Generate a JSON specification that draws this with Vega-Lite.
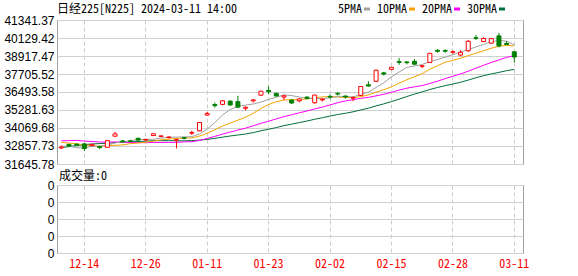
{
  "$schema": "https://vega.github.io/schema/vega-lite/v6.json",
  "background": "white",
  "padding": {"left": 3, "top": 2, "right": 0, "bottom": 0},
  "config": {
    "view": {"stroke": "#a0a0a0", "strokeWidth": 1},
    "font": "Noto Sans Mono CJK SC, Noto Sans CJK SC",
    "axis": {"gridColor": "#d0d0d0", "gridWidth": 1, "ticks": false, "domain": false, "title": null, "labelOverlap": false}
  },
  "data": {"values": [
    {"date":"2023-12-11","open":32720,"high":32900,"low":32650,"close":32791,"ma5":32835,"ma10":33105,"ma20":33206,"ma30":32753,"volume":0},
    {"date":"2023-12-12","open":32960,"high":33010,"low":32800,"close":32843,"ma5":32849,"ma10":33049,"ma20":33219,"ma30":32815,"volume":0},
    {"date":"2023-12-13","open":32980,"high":33020,"low":32850,"close":32926,"ma5":32745,"ma10":33009,"ma20":33231,"ma30":32889,"volume":0},
    {"date":"2023-12-14","open":33000,"high":33050,"low":32515,"close":32686,"ma5":32711,"ma10":32929,"ma20":33189,"ma30":32950,"volume":0},
    {"date":"2023-12-15","open":32880,"high":33000,"low":32850,"close":32970,"ma5":32843,"ma10":32883,"ma20":33166,"ma30":32995,"volume":0},
    {"date":"2023-12-18","open":32820,"high":32880,"low":32650,"close":32758,"ma5":32837,"ma10":32836,"ma20":33125,"ma30":33022,"volume":0},
    {"date":"2023-12-19","open":32770,"high":33240,"low":32750,"close":33219,"ma5":32912,"ma10":32880,"ma20":33117,"ma30":33039,"volume":0},
    {"date":"2023-12-20","open":33520,"high":33810,"low":33480,"close":33675,"ma5":33062,"ma10":32903,"ma20":33133,"ma30":33086,"volume":0},
    {"date":"2023-12-21","open":33200,"high":33260,"low":33100,"close":33140,"ma5":33152,"ma10":32932,"ma20":33117,"ma30":33119,"volume":0},
    {"date":"2023-12-22","open":33200,"high":33280,"low":33120,"close":33169,"ma5":33192,"ma10":33018,"ma20":33094,"ma30":33136,"volume":0},
    {"date":"2023-12-25","open":33380,"high":33400,"low":33220,"close":33255,"ma5":33292,"ma10":33064,"ma20":33085,"ma30":33159,"volume":0},
    {"date":"2023-12-26","open":33260,"high":33330,"low":33200,"close":33305,"ma5":33309,"ma10":33110,"ma20":33080,"ma30":33183,"volume":0},
    {"date":"2023-12-27","open":33560,"high":33700,"low":33540,"close":33681,"ma5":33310,"ma10":33186,"ma20":33098,"ma30":33216,"volume":0},
    {"date":"2023-12-28","open":33500,"high":33560,"low":33450,"close":33539,"ma5":33390,"ma10":33271,"ma20":33100,"ma30":33216,"volume":0},
    {"date":"2023-12-29","open":33420,"high":33500,"low":33380,"close":33464,"ma5":33449,"ma10":33321,"ma20":33102,"ma30":33218,"volume":0},
    {"date":"2024-01-04","open":33250,"high":33360,"low":32693,"close":33288,"ma5":33455,"ma10":33374,"ma20":33105,"ma30":33208,"volume":0},
    {"date":"2024-01-05","open":33420,"high":33450,"low":33300,"close":33377,"ma5":33470,"ma10":33389,"ma20":33135,"ma30":33208,"volume":0},
    {"date":"2024-01-09","open":33720,"high":33880,"low":33600,"close":33763,"ma5":33486,"ma10":33398,"ma20":33151,"ma30":33221,"volume":0},
    {"date":"2024-01-10","open":33880,"high":34480,"low":33850,"close":34441,"ma5":33667,"ma10":33528,"ma20":33230,"ma30":33254,"volume":0},
    {"date":"2024-01-11","open":34940,"high":35150,"low":34900,"close":35049,"ma5":33984,"ma10":33716,"ma20":33367,"ma30":33302,"volume":0},
    {"date":"2024-01-12","open":35650,"high":35780,"low":35440,"close":35577,"ma5":34441,"ma10":33948,"ma20":33506,"ma30":33373,"volume":0},
    {"date":"2024-01-15","open":35660,"high":35950,"low":35600,"close":35901,"ma5":34946,"ma10":34208,"ma20":33659,"ma30":33456,"volume":0},
    {"date":"2024-01-16","open":35880,"high":35920,"low":35570,"close":35619,"ma5":35317,"ma10":34402,"ma20":33794,"ma30":33532,"volume":0},
    {"date":"2024-01-17","open":35840,"high":36239,"low":35400,"close":35477,"ma5":35525,"ma10":34596,"ma20":33933,"ma30":33599,"volume":0},
    {"date":"2024-01-18","open":35400,"high":35520,"low":35250,"close":35466,"ma5":35608,"ma10":34796,"ma20":34058,"ma30":33667,"volume":0},
    {"date":"2024-01-19","open":35900,"high":36000,"low":35780,"close":35963,"ma5":35685,"ma10":35063,"ma20":34218,"ma30":33758,"volume":0},
    {"date":"2024-01-22","open":36280,"high":36580,"low":36250,"close":36546,"ma5":35814,"ma10":35380,"ma20":34385,"ma30":33883,"volume":0},
    {"date":"2024-01-23","open":36600,"high":36880,"low":36340,"close":36517,"ma5":35994,"ma10":35656,"ma20":34527,"ma30":33986,"volume":0},
    {"date":"2024-01-24","open":36400,"high":36450,"low":36200,"close":36226,"ma5":36144,"ma10":35834,"ma20":34681,"ma30":34098,"volume":0},
    {"date":"2024-01-25","open":36150,"high":36300,"low":35950,"close":36236,"ma5":36298,"ma10":35953,"ma20":34835,"ma30":34229,"volume":0},
    {"date":"2024-01-26","open":35950,"high":36000,"low":35700,"close":35751,"ma5":36255,"ma10":35970,"ma20":34959,"ma30":34328,"volume":0},
    {"date":"2024-01-29","open":35900,"high":36060,"low":35800,"close":36026,"ma5":36151,"ma10":35983,"ma20":35095,"ma30":34434,"volume":0},
    {"date":"2024-01-30","open":36150,"high":36200,"low":36000,"close":36065,"ma5":36061,"ma10":36027,"ma20":35215,"ma30":34538,"volume":0},
    {"date":"2024-01-31","open":35770,"high":36300,"low":35700,"close":36287,"ma5":36073,"ma10":36108,"ma20":35352,"ma30":34658,"volume":0},
    {"date":"2024-02-01","open":35960,"high":36080,"low":35850,"close":36011,"ma5":36028,"ma10":36163,"ma20":35479,"ma30":34760,"volume":0},
    {"date":"2024-02-02","open":36200,"high":36330,"low":36040,"close":36158,"ma5":36109,"ma10":36182,"ma20":35623,"ma30":34873,"volume":0},
    {"date":"2024-02-05","open":36400,"high":36480,"low":36250,"close":36354,"ma5":36175,"ma10":36163,"ma20":35772,"ma30":34978,"volume":0},
    {"date":"2024-02-06","open":36220,"high":36260,"low":36050,"close":36160,"ma5":36194,"ma10":36127,"ma20":35892,"ma30":35060,"volume":0},
    {"date":"2024-02-07","open":36080,"high":36200,"low":35880,"close":36119,"ma5":36160,"ma10":36117,"ma20":35975,"ma30":35160,"volume":0},
    {"date":"2024-02-08","open":36261,"high":36900,"low":36250,"close":36863,"ma5":36331,"ma10":36179,"ma20":36066,"ma30":35283,"volume":0},
    {"date":"2024-02-09","open":36980,"high":37220,"low":36850,"close":36897,"ma5":36479,"ma10":36294,"ma20":36132,"ma30":35404,"volume":0},
    {"date":"2024-02-13","open":37215,"high":38000,"low":37200,"close":37963,"ma5":36800,"ma10":36488,"ma20":36235,"ma30":35559,"volume":0},
    {"date":"2024-02-14","open":37780,"high":37850,"low":37600,"close":37703,"ma5":37109,"ma10":36652,"ma20":36339,"ma30":35694,"volume":0},
    {"date":"2024-02-15","open":38020,"high":38180,"low":37960,"close":38157,"ma5":37517,"ma10":36839,"ma20":36473,"ma30":35847,"volume":0},
    {"date":"2024-02-16","open":38540,"high":38780,"low":38330,"close":38487,"ma5":37841,"ma10":37086,"ma20":36624,"ma30":36015,"volume":0},
    {"date":"2024-02-19","open":38520,"high":38560,"low":38350,"close":38470,"ma5":38156,"ma10":37317,"ma20":36750,"ma30":36188,"volume":0},
    {"date":"2024-02-20","open":38560,"high":38710,"low":38300,"close":38364,"ma5":38236,"ma10":37518,"ma20":36841,"ma30":36354,"volume":0},
    {"date":"2024-02-21","open":38220,"high":38300,"low":38100,"close":38262,"ma5":38348,"ma10":37729,"ma20":36928,"ma30":36504,"volume":0},
    {"date":"2024-02-22","open":38486,"high":39130,"low":38450,"close":39098,"ma5":38536,"ma10":38026,"ma20":37072,"ma30":36659,"volume":0},
    {"date":"2024-02-26","open":39300,"high":39380,"low":39150,"close":39233,"ma5":38685,"ma10":38263,"ma20":37221,"ma30":36799,"volume":0},
    {"date":"2024-02-27","open":39290,"high":39370,"low":39130,"close":39240,"ma5":38839,"ma10":38498,"ma20":37396,"ma30":36921,"volume":0},
    {"date":"2024-02-28","open":39170,"high":39280,"low":39050,"close":39208,"ma5":39008,"ma10":38622,"ma20":37555,"ma30":37031,"volume":0},
    {"date":"2024-02-29","open":38980,"high":39300,"low":38900,"close":39166,"ma5":39189,"ma10":38769,"ma20":37710,"ma30":37149,"volume":0},
    {"date":"2024-03-01","open":39268,"high":40000,"low":39200,"close":39910,"ma5":39351,"ma10":38944,"ma20":37891,"ma30":37297,"volume":0},
    {"date":"2024-03-04","open":40150,"high":40340,"low":40000,"close":40109,"ma5":39527,"ma10":39106,"ma20":38096,"ma30":37452,"volume":0},
    {"date":"2024-03-05","open":39890,"high":40180,"low":39850,"close":40097,"ma5":39698,"ma10":39269,"ma20":38293,"ma30":37592,"volume":0},
    {"date":"2024-03-06","open":39783,"high":40120,"low":39730,"close":40090,"ma5":39874,"ma10":39441,"ma20":38480,"ma30":37711,"volume":0},
    {"date":"2024-03-07","open":40271,"high":40472,"low":39500,"close":39598,"ma5":39961,"ma10":39575,"ma20":38652,"ma30":37813,"volume":0},
    {"date":"2024-03-08","open":39760,"high":39920,"low":39680,"close":39688,"ma5":39916,"ma10":39634,"ma20":38830,"ma30":37929,"volume":0},
    {"date":"2024-03-11","open":39201,"high":39250,"low":38486,"close":38850,"ma5":39665,"ma10":39596,"ma20":38930,"ma30":38016,"volume":0}
  ]},
  "spacing": -2,
  "vconcat": [
    {
      "width": 466,
      "height": 144,
      "title": {"text": "日经225[N225] 2024-03-11 14:00", "anchor": "start", "frame": "group", "offset": -2, "fontSize": 12, "fontWeight": "normal", "color": "#000000", "font": "Noto Sans Mono CJK SC, Noto Sans CJK SC"},
      "encoding": {
        "x": {
          "field": "date", "type": "ordinal",
          "scale": {"type": "band", "paddingInner": 0, "paddingOuter": 0.3465, "align": 0.087},
          "axis": {"values": ["2023-12-14","2023-12-26","2024-01-11","2024-01-23","2024-02-02","2024-02-15","2024-02-28","2024-03-11"], "labels": false, "ticks": false, "domain": false, "labelPadding": 0, "minExtent": 0, "maxExtent": 0, "grid": true, "gridDash": [4, 3], "gridColor": "#cccccc"}
        }
      },
      "layer": [
        {
          "mark": {"type": "line", "strokeWidth": 1},
          "encoding": {
            "y": {"field": "ma30", "type": "quantitative", "scale": {"domain": [31645.78, 41341.37], "zero": false, "nice": false},
              "axis": {"values": [31645.78, 32857.73, 34069.68, 35281.63, 36493.58, 37705.52, 38917.47, 40129.42, 41341.37], "tickCount": 9, "format": ".2f", "labelFont": "Liberation Sans", "labelFontSize": 12, "labelColor": "#000000", "labelPadding": 3, "labelFlush": false, "labelOverlap": false, "grid": true, "gridColor": "#d0d0d0"}},
            "color": {"datum": "30PMA", "type": "nominal",
              "scale": {"domain": ["5PMA", "10PMA", "20PMA", "30PMA"], "range": ["#a0a0a0", "#f5a300", "#ff00ff", "#00703c"]},
              "legend": {"orient": "none", "legendX": 304, "legendY": -17, "direction": "horizontal", "title": null, "symbolType": "stroke", "symbolSize": 36, "symbolStrokeWidth": 3, "labelFont": "Noto Sans Mono CJK SC, Noto Sans CJK SC", "labelFontSize": 12, "labelColor": "#000000", "labelAlign": "right", "labelOffset": -11, "columnPadding": 0}}
          }
        },
        {
          "mark": {"type": "line", "strokeWidth": 1},
          "encoding": {"y": {"field": "ma20", "type": "quantitative"}, "color": {"datum": "20PMA", "type": "nominal"}}
        },
        {
          "mark": {"type": "line", "strokeWidth": 1},
          "encoding": {"y": {"field": "ma10", "type": "quantitative"}, "color": {"datum": "10PMA", "type": "nominal"}}
        },
        {
          "mark": {"type": "line", "strokeWidth": 1},
          "encoding": {"y": {"field": "ma5", "type": "quantitative"}, "color": {"datum": "5PMA", "type": "nominal"}}
        },
        {
          "mark": {"type": "rule", "strokeWidth": 1},
          "encoding": {
            "y": {"field": "low", "type": "quantitative"},
            "y2": {"field": "high"},
            "color": {"condition": {"test": "datum.close >= datum.open", "value": "#ff0000"}, "value": "#008000"}
          }
        },
        {
          "mark": {"type": "bar", "size": 4, "strokeWidth": 1},
          "encoding": {
            "y": {"field": "open", "type": "quantitative"},
            "y2": {"field": "close"},
            "fill": {"condition": {"test": "datum.close >= datum.open", "value": "#ffffff"}, "value": "#008000"},
            "stroke": {"condition": {"test": "datum.close >= datum.open", "value": "#ff0000"}, "value": "#008000"}
          }
        }
      ]
    },
    {
      "width": 466,
      "height": 68,
      "title": {"text": "成交量:0", "anchor": "start", "frame": "group", "offset": -4, "dx": 2, "fontSize": 12, "fontWeight": "normal", "color": "#000000", "font": "Noto Sans Mono CJK SC, Noto Sans CJK SC"},
      "mark": {"type": "bar", "size": 4, "color": "#008000"},
      "encoding": {
        "x": {
          "field": "date", "type": "ordinal",
          "scale": {"type": "band", "paddingInner": 0, "paddingOuter": 0.3465, "align": 0.087},
          "axis": {"values": ["2023-12-14","2023-12-26","2024-01-11","2024-01-23","2024-02-02","2024-02-15","2024-02-28","2024-03-11"], "labelExpr": "substring(datum.label, 5)", "labelAngle": 0, "labelColor": "#ff0000", "labelFont": "Noto Sans Mono CJK SC, Noto Sans CJK SC", "labelFontSize": 12, "labelPadding": 5, "grid": true, "gridDash": [4, 3], "gridColor": "#cccccc"}
        },
        "y": {
          "field": "volume", "type": "quantitative", "scale": {"domain": [0, 1], "nice": false, "zero": true},
          "axis": {"values": [0, 0.25, 0.5, 0.75, 1], "tickCount": 5, "labelExpr": "'0'", "labelFont": "Liberation Sans", "labelFontSize": 12, "labelColor": "#000000", "labelPadding": 3, "labelFlush": false, "labelOverlap": false, "grid": true, "gridColor": "#d0d0d0"}
        }
      }
    }
  ]
}
